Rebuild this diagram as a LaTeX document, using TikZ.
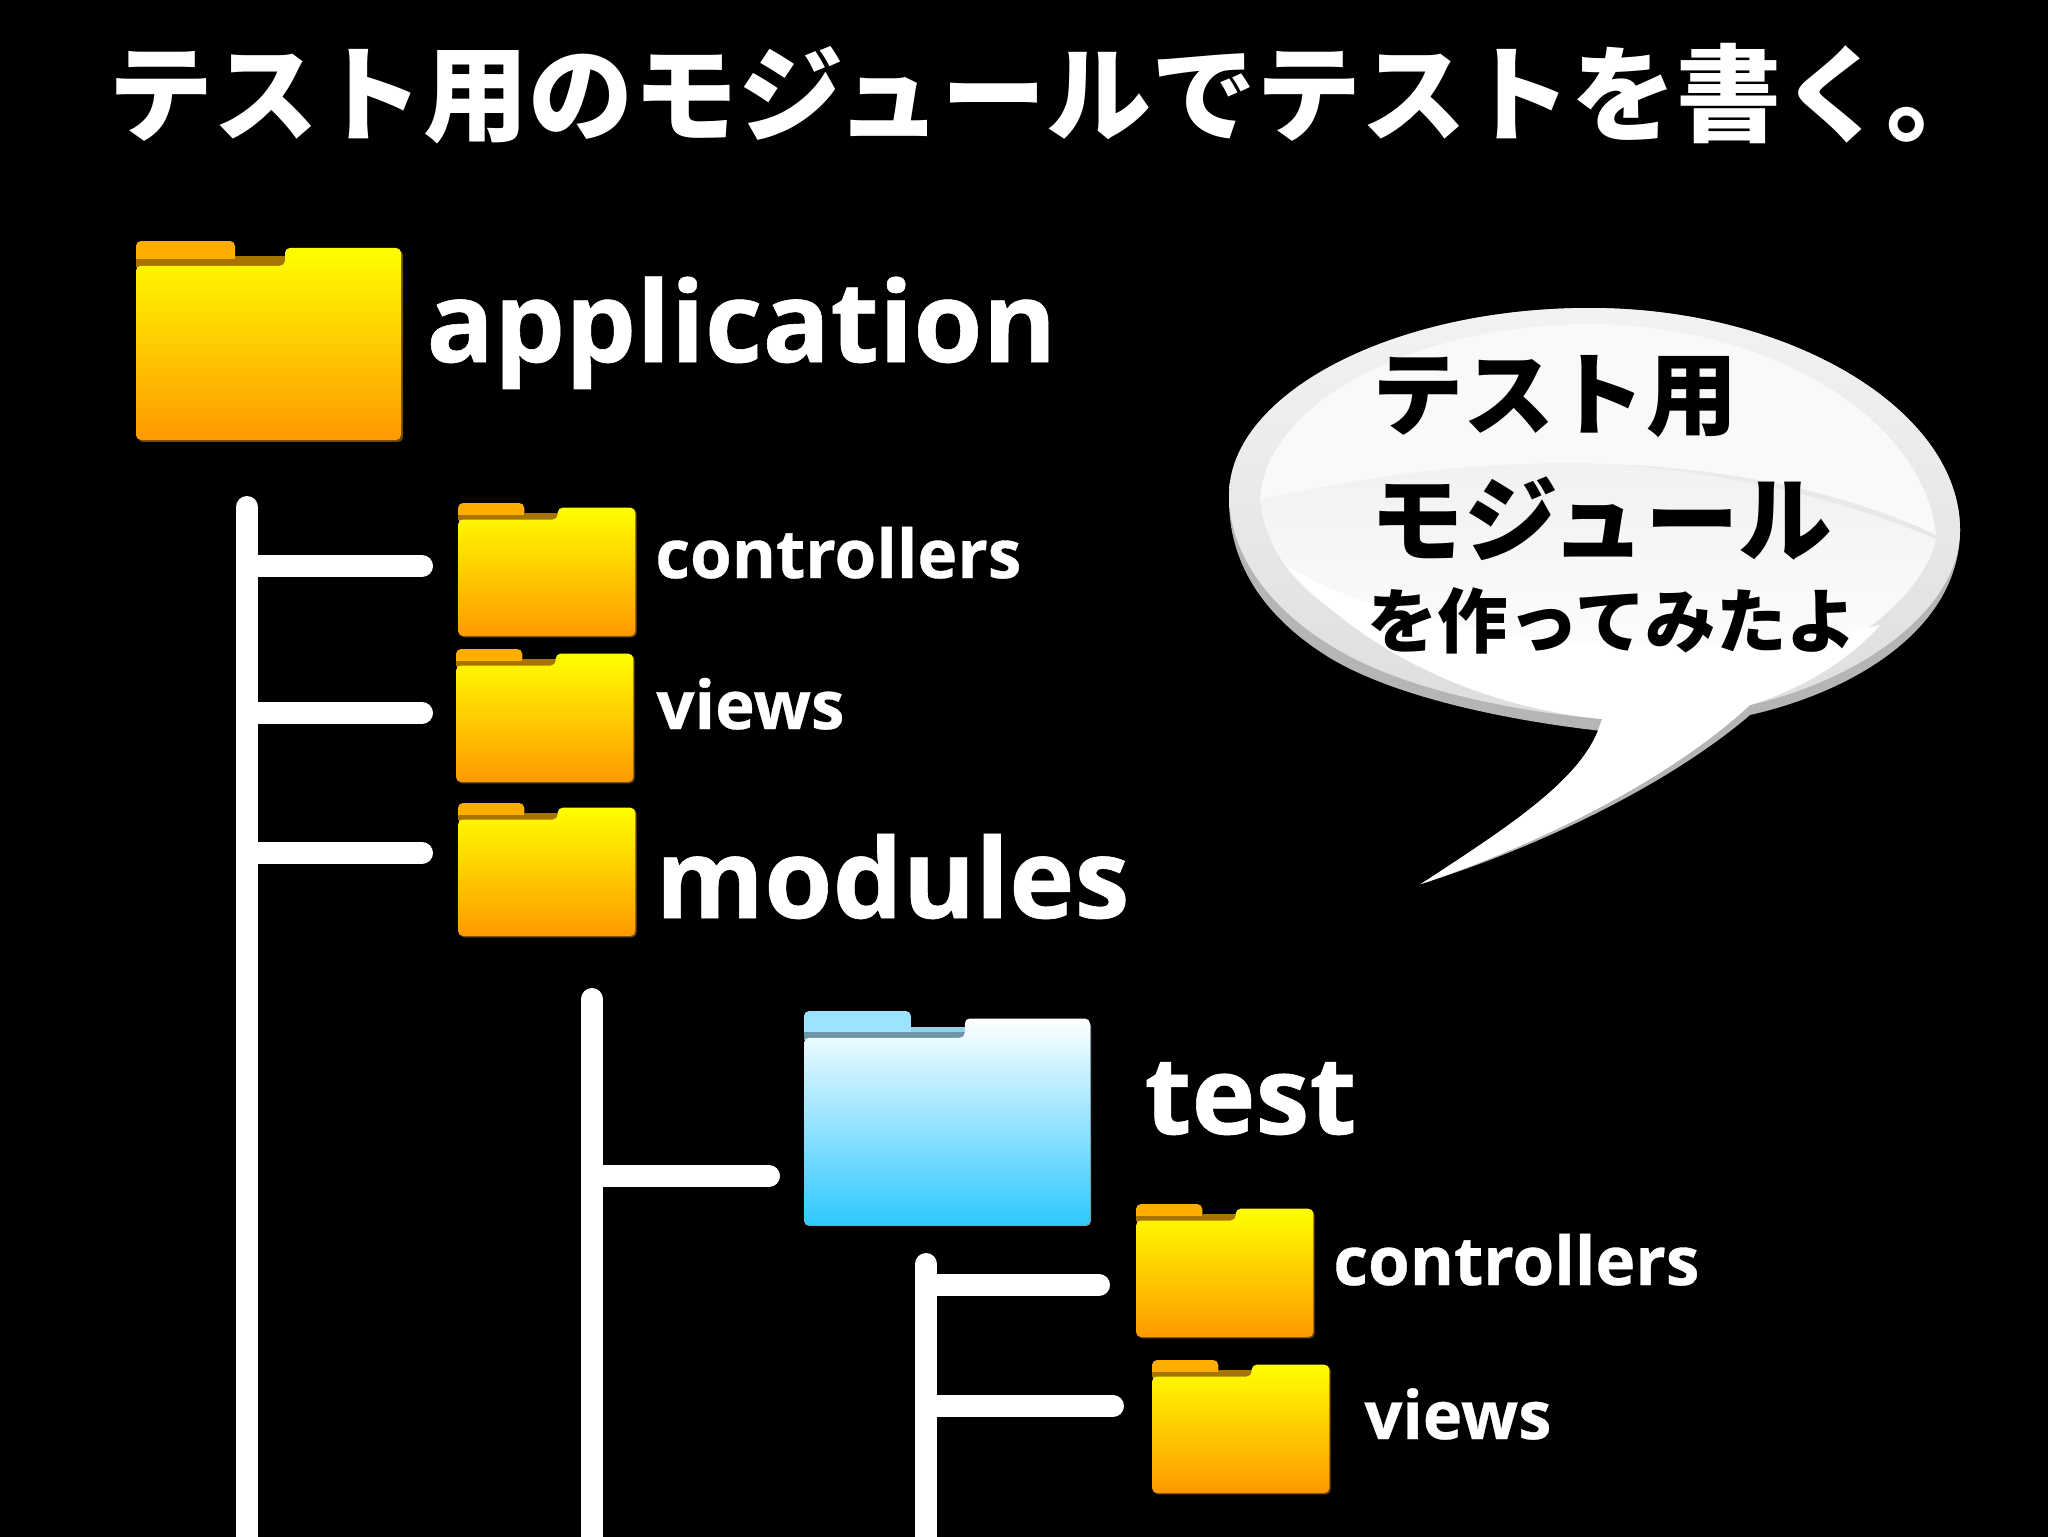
\documentclass[tikz,border=0pt]{standalone}
\usepackage{fontspec}
\usepackage{graphicx}
\setmainfont{Open Sans}
\newfontfamily\cjk{Noto Sans CJK JP}
\newfontfamily\lat[BoldFeatures={FakeBold=0.5}]{Open Sans}
\newlength\pxu
\setlength\pxu{0.5pt}
\definecolor{fold1}{HTML}{FFFF00}
\definecolor{fold2}{HTML}{FF9900}
\definecolor{ftab}{HTML}{FFAE00}
\definecolor{fband}{HTML}{A87400}
\definecolor{fedge}{HTML}{6E4A00}
\definecolor{blue1}{HTML}{FFFFFF}
\definecolor{blue2}{HTML}{2FC8FF}
\definecolor{btab}{HTML}{9AE4FF}
\definecolor{bband}{HTML}{6F96A8}
\definecolor{bedge}{HTML}{8A9AA5}
\tikzset{
  treeline/.style={draw=white,line width=11pt,line cap=round},
  lab/.style={text=white,inner sep=0pt,anchor=base west,font=\lat\bfseries},
  jp/.style={inner sep=0pt,anchor=north west,font=\cjk\bfseries},
}
\newcommand{\yfolder}[5]{%
  \begin{scope}[shift={(#2,#3)},xscale=#4/266,yscale=#5/201,rounded corners=2.5pt]
    \coordinate (#1) at (133,100);
    \fill[fedge] (2,27) -- (151,27) -- (151,9) -- (267,9) -- (267,203) -- (2,203) -- cycle;
    \fill[ftab] (0,30) -- (0,0) -- (99,0) -- (99,30) -- cycle;
    \fill[fband,sharp corners] (99,15) rectangle (150,27);
    \fill[fband,sharp corners] (0,18) rectangle (150,26);
    \shade[top color=fold1,bottom color=fold2] (0,25) -- (149,25) -- (149,7) -- (265,7) -- (265,201) -- (0,201) -- cycle;
  \end{scope}}
\newcommand{\bfolder}[5]{%
  \begin{scope}[shift={(#2,#3)},xscale=#4/266,yscale=#5/201,rounded corners=2.5pt]
    \coordinate (#1) at (133,100);
    \fill[bedge] (0,27) -- (150,27) -- (150,9) -- (266,9) -- (266,201) -- (0,201) -- cycle;
    \fill[btab] (0,30) -- (0,0) -- (99,0) -- (99,30) -- cycle;
    \fill[btab!75!bband,sharp corners] (99,15) rectangle (150,24);
    \fill[bband,sharp corners] (0,20) rectangle (150,26);
    \shade[top color=blue1,bottom color=blue2] (0,25) -- (149,25) -- (149,7) -- (265,7) -- (265,200) -- (0,200) -- cycle;
  \end{scope}}
\begin{document}
\begin{tikzpicture}[x=0.5pt,y=-0.5pt]
\useasboundingbox (0,0) rectangle (2048,1536);
\fill[black] (-20,-20) rectangle (2068,1556);

% title
\node[jp,text=white] (title) at (108,43) {\resizebox{1883\pxu}{!}{テスト用のモジュールでテストを書く。}};

% tree coordinates
\coordinate (t1) at (247,507);
\coordinate (b1) at (247,1560);
\coordinate (j1a) at (247,566);
\coordinate (e1a) at (422,566);
\coordinate (j1b) at (247,713);
\coordinate (e1b) at (422,713);
\coordinate (j1c) at (247,853);
\coordinate (e1c) at (422,853);
\coordinate (t2) at (592,999);
\coordinate (b2) at (592,1560);
\coordinate (j2a) at (592,1176);
\coordinate (e2a) at (769,1176);
\coordinate (t3) at (926,1264);
\coordinate (b3) at (926,1560);
\coordinate (j3a) at (926,1285);
\coordinate (e3a) at (1099,1285);
\coordinate (j3b) at (926,1406);
\coordinate (e3b) at (1113,1406);
\foreach \a/\b in {t1/b1,j1a/e1a,j1b/e1b,j1c/e1c,t2/b2,j2a/e2a,t3/b3,j3a/e3a,j3b/e3b}
  \draw[treeline] (\a) -- (\b);

% folders
\yfolder{fapp}{136}{241}{266}{199}
\yfolder{fctl}{458}{503}{178}{133}
\yfolder{fviews}{456}{649}{178}{133}
\yfolder{fmods}{458}{803}{178}{133}
\bfolder{ftest}{804}{1011}{287}{215}
\yfolder{ftctl}{1136}{1204}{178}{133}
\yfolder{ftviews}{1152}{1360}{178}{133}

% labels
\node[lab] (lapp) at (426,362) {\resizebox{630\pxu}{!}{application}};
\node[lab] (lctl) at (655,578) {\resizebox{366\pxu}{!}{controllers}};
\node[lab] (lviews) at (656,729) {\resizebox{188\pxu}{!}{views}};
\node[lab] (lmods) at (655,918) {\resizebox{474\pxu}{!}{modules}};
\node[lab] (ltest) at (1144,1134) {\resizebox{212\pxu}{!}{test}};
\node[lab] (ltctl) at (1333,1285) {\resizebox{366\pxu}{!}{controllers}};
\node[lab] (ltviews) at (1364,1439) {\resizebox{187\pxu}{!}{views}};

% speech bubble: rim
\fill[gray!58] (1421,884) .. controls (1500,832) and (1575,785) .. (1597,733)
  -- (1602,731) .. controls (1520,722) and (1400,700) .. (1330,658)
  .. controls (1260,615) and (1229,560) .. (1229,500)
  .. controls (1229,395) and (1390,308) .. (1590,308)
  .. controls (1790,308) and (1960,410) .. (1960,530)
  .. controls (1960,625) and (1860,690) .. (1750,715)
  .. controls (1680,775) and (1560,840) .. (1421,884) -- cycle;
% surface band
\shade[top color=gray!10,bottom color=gray!26]
  (1229,495) .. controls (1229,395) and (1390,308) .. (1590,308)
  .. controls (1790,308) and (1960,410) .. (1960,530)
  .. controls (1960,610) and (1860,680) .. (1750,705)
  -- (1602,719) .. controls (1520,712) and (1400,690) .. (1330,645)
  .. controls (1265,605) and (1229,550) .. cycle;
% lower area
\shade[top color=gray!12,bottom color=white]
  (1260,500) .. controls (1420,445) and (1700,440) .. (1936,539)
  .. controls (1925,590) and (1860,650) .. (1750,690)
  -- (1560,700) .. controls (1450,670) and (1330,630) .. (1285,565)
  .. controls (1270,545) and (1262,520) .. cycle;
% tail and white underside
\fill[white] (1421,884) .. controls (1500,832) and (1575,785) .. (1597,733)
  -- (1602,719) .. controls (1490,708) and (1370,660) .. (1285,565)
  .. controls (1400,640) and (1700,670) .. (1880,625)
  .. controls (1850,660) and (1800,690) .. (1750,705)
  .. controls (1680,770) and (1560,837) .. (1421,884) -- cycle;
% gloss
\fill[white!95!gray] (1260,500)
  .. controls (1265,400) and (1420,324) .. (1590,324)
  .. controls (1770,324) and (1925,420) .. (1936,535)
  .. controls (1800,470) and (1560,430) .. (1260,500) -- cycle;
\node[jp,text=black] (b1t) at (1372,355) {\resizebox{365\pxu}{!}{テスト用}};
\node[jp,text=black] (b2t) at (1370,476) {\resizebox{462\pxu}{!}{モジュール}};
\node[jp,text=black] (b3t) at (1367,587) {\resizebox{490\pxu}{!}{を作ってみたよ}};
\end{tikzpicture}
\end{document}
